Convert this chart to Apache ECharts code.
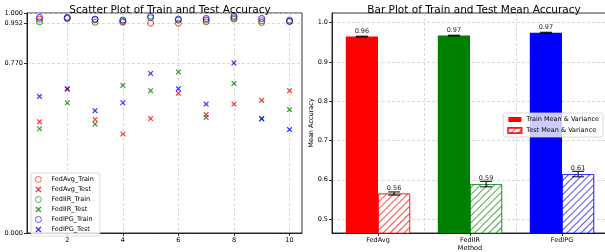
<!DOCTYPE html>
<html>
<head>
<meta charset="utf-8">
<script src="https://cdn.jsdelivr.net/npm/echarts@6/dist/echarts.min.js"></script>
<style>
  html, body { margin: 0; padding: 0; background: #fff; }
  #chart { width: 605px; height: 252px; }
</style>
</head>
<body>
<div id="chart"></div>
<script>
// rounds on the scatter x axis
const rounds = [1, 2, 3, 4, 5, 6, 7, 8, 9, 10];

// per-round accuracy
const fedAvgTrain = [0.972, 0.976, 0.969, 0.958, 0.954, 0.953, 0.968, 0.978, 0.965, 0.962];
const fedAvgTest  = [0.506, 0.653, 0.516, 0.450, 0.520, 0.635, 0.538, 0.586, 0.603, 0.647];
const fedIIRTrain = [0.960, 0.975, 0.958, 0.962, 0.978, 0.968, 0.960, 0.972, 0.957, 0.968];
const fedIIRTest  = [0.474, 0.592, 0.495, 0.671, 0.647, 0.732, 0.525, 0.680, 0.518, 0.561];
const fedIPGTrain = [0.980, 0.980, 0.972, 0.968, 0.985, 0.972, 0.975, 0.985, 0.975, 0.962];
const fedIPGTest  = [0.621, 0.656, 0.556, 0.592, 0.725, 0.656, 0.586, 0.773, 0.520, 0.470];

// scatter axis ticks
const scatterXTicks = [2, 4, 6, 8, 10];
const scatterYTicks = [0, 0.770, 0.952, 1.0];

// bar plot
const methods = ['FedAvg', 'FedIIR', 'FedIPG'];
const trainMean = [0.9645, 0.967, 0.9745];
const trainErr  = [0.001, 0.001, 0.001];
const testMean  = [0.565, 0.589, 0.6145];
const testErr   = [0.004, 0.007, 0.007];
const barYTicks = [0.5, 0.6, 0.7, 0.8, 0.9, 1.0];

const colors = ['#ff0000', '#008000', '#0000ff'];
const hatchColors = ['rgba(255,0,0,0.7)', 'rgba(0,128,0,0.7)', 'rgba(0,0,255,0.7)'];
const FONT = 'DejaVu Sans';

// '//' hatch done with a decal
function hatch(color) {
  return {
    symbol: 'rect',
    symbolSize: 1,
    symbolKeepAspect: false,
    color: color,
    backgroundColor: '#fff',
    dashArrayX: [1, 0],
    dashArrayY: [1, 4],
    rotation: -Math.PI / 4
  };
}

const crossPath = 'path://M0,1.5L1.5,0L5,3.5L8.5,0L10,1.5L6.5,5L10,8.5L8.5,10L5,6.5L1.5,10L0,8.5L3.5,5Z';

function scatterSeries(name, arr, color, isTest) {
  return {
    name: name,
    type: 'scatter',
    xAxisIndex: 0,
    yAxisIndex: 0,
    symbol: isTest ? crossPath : 'circle',
    symbolSize: isTest ? 5.5 : 6,
    itemStyle: isTest
      ? { color: color }
      : { color: 'rgba(0,0,0,0)', borderColor: color, borderWidth: 1 },
    data: rounds.map((r, i) => [r, arr[i]]),
    z: 3
  };
}

// error bars drawn through the axis scales
function errorSeries(name, means, errs, side) {
  return {
    name: name,
    type: 'custom',
    xAxisIndex: 1,
    yAxisIndex: 1,
    data: means.map((m, i) => [i, m, errs[i]]),
    renderItem: function (params, api) {
      const idx = api.value(0);
      const m = api.value(1);
      const e = api.value(2);
      const band = api.size([1, 0])[0];
      const off = side * band * 0.35 / 2;
      const top = api.coord([idx, m + e]);
      const bot = api.coord([idx, m - e]);
      const x = top[0] + off;
      const cap = 6;
      const style = { stroke: '#000', lineWidth: 1 };
      return {
        type: 'group',
        children: [
          { type: 'line', shape: { x1: x, y1: top[1], x2: x, y2: bot[1] }, style: style },
          { type: 'line', shape: { x1: x - cap, y1: top[1], x2: x + cap, y2: top[1] }, style: style },
          { type: 'line', shape: { x1: x - cap, y1: bot[1], x2: x + cap, y2: bot[1] }, style: style }
        ]
      };
    },
    z: 5,
    silent: true
  };
}

const chart = echarts.init(document.getElementById('chart'), null, { renderer: 'canvas' });

const axisLabelStyle = { fontFamily: FONT, fontSize: 6.5, color: '#000' };
const splitStyle = { show: true, lineStyle: { type: [3, 2], color: '#cfcfcf', width: 0.8 } };

const option = {
  backgroundColor: '#fff',
  animation: false,
  textStyle: { fontFamily: FONT },
  title: [
    {
      text: 'Scatter Plot of Train and Test Accuracy',
      left: 165, top: 0, textAlign: 'center',
      textStyle: { fontFamily: FONT, fontSize: 10.5, fontWeight: 'normal', color: '#000' }
    },
    {
      text: 'Bar Plot of Train and Test Mean Accuracy',
      left: 469, top: 0, textAlign: 'center',
      textStyle: { fontFamily: FONT, fontSize: 10.5, fontWeight: 'normal', color: '#000' }
    }
  ],
  legend: [
    {
      orient: 'vertical',
      left: 31, top: 173,
      padding: [3, 6, 3, 4],
      itemWidth: 6, itemHeight: 6, itemGap: 3,
      itemStyle: { borderWidth: 0.8 },
      backgroundColor: 'rgba(255,255,255,0.8)',
      borderColor: '#d0d0d0', borderWidth: 0.8, borderRadius: 2,
      textStyle: { fontFamily: FONT, fontSize: 6.5, color: '#000', padding: [0, 0, 0, 5] },
      data: ['FedAvg_Train', 'FedAvg_Test', 'FedIIR_Train', 'FedIIR_Test', 'FedIPG_Train', 'FedIPG_Test']
    },
    {
      orient: 'vertical',
      right: 2, top: 113,
      padding: [3, 4, 3, 4],
      itemWidth: 13, itemHeight: 5, itemGap: 4,
      backgroundColor: 'rgba(255,255,255,0.8)',
      borderColor: '#d0d0d0', borderWidth: 0.8, borderRadius: 2,
      textStyle: { fontFamily: FONT, fontSize: 6.5, color: '#000' },
      data: [
        { name: 'Train Mean & Variance', icon: 'rect' },
        { name: 'Test Mean & Variance', icon: 'rect' }
      ]
    }
  ],
  grid: [
    { left: 27, top: 13, width: 275, height: 220, show: true, borderColor: '#000', borderWidth: 0.8, outerBoundsMode: 'none', containLabel: false },
    { left: 332, top: 13, width: 276, height: 220, show: true, borderColor: '#000', borderWidth: 0.8, outerBoundsMode: 'none', containLabel: false }
  ],
  xAxis: [
    {
      gridIndex: 0, type: 'value', min: 0.55, max: 10.45,
      axisLine: { lineStyle: { color: '#000', width: 0.8 } },
      axisTick: { show: true, length: 3, lineStyle: { color: '#000', width: 0.8 }, customValues: scatterXTicks },
      axisLabel: Object.assign({ customValues: scatterXTicks, margin: 4 }, axisLabelStyle),
      splitLine: splitStyle
    },
    {
      gridIndex: 1, type: 'category', data: methods,
      name: 'Method', nameLocation: 'middle', nameGap: 12, nameMoveOverlap: false,
      nameTextStyle: { fontFamily: FONT, fontSize: 6.5, color: '#000' },
      axisLine: { lineStyle: { color: '#000', width: 0.8 } },
      axisTick: { show: true, alignWithLabel: true, length: 3, lineStyle: { color: '#000', width: 0.8 } },
      axisLabel: Object.assign({ margin: 4 }, axisLabelStyle),
      splitLine: splitStyle
    }
  ],
  yAxis: [
    {
      gridIndex: 0, type: 'value', min: 0, max: 1,
      axisLine: { show: true, lineStyle: { color: '#000', width: 0.8 } },
      axisTick: { show: true, length: 3, lineStyle: { color: '#000', width: 0.8 }, customValues: scatterYTicks },
      axisLabel: Object.assign({ customValues: scatterYTicks, margin: 4, formatter: v => v.toFixed(3) }, axisLabelStyle),
      splitLine: splitStyle
    },
    {
      gridIndex: 1, type: 'value', min: 0.4645, max: 1.0245,
      name: 'Mean Accuracy', nameLocation: 'middle', nameGap: 17, nameMoveOverlap: false,
      nameTextStyle: { fontFamily: FONT, fontSize: 6.5, color: '#000' },
      axisLine: { show: true, lineStyle: { color: '#000', width: 0.8 } },
      axisTick: { show: true, length: 3, lineStyle: { color: '#000', width: 0.8 }, customValues: barYTicks },
      axisLabel: Object.assign({ customValues: barYTicks, margin: 4, formatter: v => v.toFixed(1) }, axisLabelStyle),
      splitLine: splitStyle
    }
  ],
  series: [
    scatterSeries('FedAvg_Train', fedAvgTrain, colors[0], false),
    scatterSeries('FedAvg_Test', fedAvgTest, colors[0], true),
    scatterSeries('FedIIR_Train', fedIIRTrain, colors[1], false),
    scatterSeries('FedIIR_Test', fedIIRTest, colors[1], true),
    scatterSeries('FedIPG_Train', fedIPGTrain, colors[2], false),
    scatterSeries('FedIPG_Test', fedIPGTest, colors[2], true),
    {
      name: 'Train Mean & Variance',
      type: 'bar',
      xAxisIndex: 1, yAxisIndex: 1,
      barWidth: '35%', barGap: '0%',
      itemStyle: { color: colors[0] },
      label: {
        show: true, position: 'top', distance: 2,
        fontFamily: FONT, fontSize: 6.5, color: '#222',
        formatter: p => p.value.toFixed(2)
      },
      data: trainMean.map((v, i) => ({ value: v, itemStyle: { color: colors[i] } })),
      z: 2
    },
    {
      name: 'Test Mean & Variance',
      type: 'bar',
      xAxisIndex: 1, yAxisIndex: 1,
      barWidth: '35%', barGap: '0%',
      itemStyle: { color: '#fff', borderColor: hatchColors[0], borderWidth: 1, decal: hatch(hatchColors[0]) },
      label: {
        show: true, position: 'top', distance: 2,
        fontFamily: FONT, fontSize: 6.5, color: '#222',
        formatter: p => p.value.toFixed(2)
      },
      data: testMean.map((v, i) => ({
        value: v,
        itemStyle: { color: '#fff', borderColor: hatchColors[i], borderWidth: 1, decal: hatch(hatchColors[i]) }
      })),
      z: 2
    },
    errorSeries('trainErr', trainMean, trainErr, -1),
    errorSeries('testErr', testMean, testErr, 1)
  ]
};

chart.setOption(option);
</script>
</body>
</html>
